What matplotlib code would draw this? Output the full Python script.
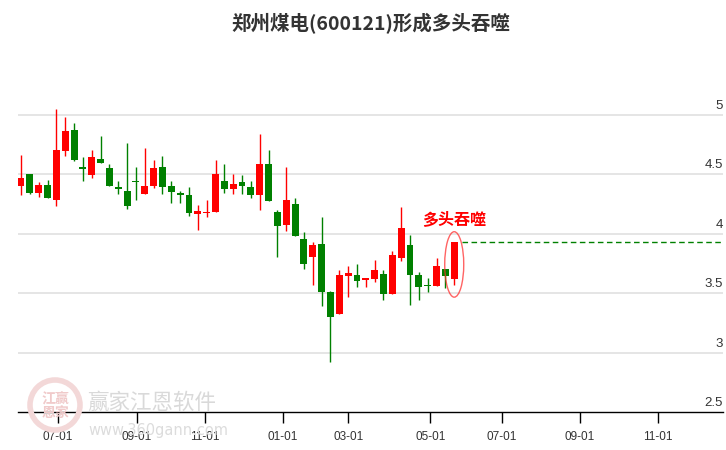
import matplotlib
matplotlib.use("Agg")
import matplotlib.pyplot as plt
from matplotlib.patches import Ellipse
import matplotlib.transforms as mtransforms

# ---- data (weekly candles) ----
opens = [4.40, 4.50, 4.34, 4.41, 4.28, 4.69, 4.87, 4.56, 4.49, 4.63,
         4.55, 4.39, 4.36, 4.435, 4.33, 4.40, 4.56, 4.40, 4.34, 4.32,
         4.16, 4.17, 4.18, 4.44, 4.37, 4.43, 4.39, 4.32, 4.58, 4.18,
         4.07, 4.25, 3.95, 3.80, 3.91, 3.51, 3.32, 3.64, 3.65, 3.61,
         3.62, 3.66, 3.49, 3.79, 3.90, 3.65, 3.56, 3.56, 3.70, 3.62]
highs = [4.66, 4.50, 4.43, 4.45, 5.05, 4.98, 4.93, 4.64, 4.70, 4.82,
         4.58, 4.44, 4.76, 4.56, 4.72, 4.62, 4.65, 4.44, 4.36, 4.39,
         4.24, 4.28, 4.62, 4.58, 4.50, 4.49, 4.44, 4.84, 4.70, 4.20,
         4.56, 4.30, 4.01, 3.93, 4.14, 3.52, 3.69, 3.73, 3.74, 3.63,
         3.78, 3.69, 3.85, 4.22, 3.99, 3.68, 3.63, 3.79, 3.70, 3.93]
lows = [4.32, 4.33, 4.31, 4.30, 4.23, 4.65, 4.61, 4.44, 4.47, 4.59,
        4.40, 4.33, 4.21, 4.28, 4.33, 4.38, 4.33, 4.26, 4.26, 4.15,
        4.03, 4.14, 4.18, 4.34, 4.33, 4.33, 4.30, 4.20, 4.27, 3.80,
        4.02, 3.98, 3.70, 3.57, 3.39, 2.92, 3.32, 3.47, 3.55, 3.55,
        3.595, 3.44, 3.49, 3.77, 3.40, 3.44, 3.51, 3.56, 3.545, 3.57]
closes = [4.47, 4.34, 4.41, 4.30, 4.70, 4.86, 4.62, 4.54, 4.64, 4.59,
          4.40, 4.37, 4.23, 4.43, 4.40, 4.55, 4.39, 4.35, 4.32, 4.17,
          4.19, 4.18, 4.50, 4.37, 4.42, 4.40, 4.32, 4.58, 4.27, 4.06,
          4.28, 3.98, 3.74, 3.90, 3.51, 3.30, 3.65, 3.67, 3.60, 3.62,
          3.69, 3.49, 3.82, 4.05, 3.65, 3.55, 3.555, 3.73, 3.64, 3.93]

tick_pos = [4.2, 13.1, 20.8, 29.6, 37.0, 46.3, 54.4, 63.2, 72.0]
tick_labels = ["07-01", "09-01", "11-01", "01-01", "03-01", "05-01", "07-01", "09-01", "11-01"]
y_ticks = [2.5, 3, 3.5, 4, 4.5, 5]
y_tick_labels = ["2.5", "3", "3.5", "4", "4.5", "5"]

title = "郑州煤电(600121)形成多头吞噬"
pattern_label = "多头吞噬"
wm_name = "赢家江恩软件"
wm_url = "www.360gann.com"
wm_stamp = "江赢\n恩家"

UP = "#ff0000"
DOWN = "#008000"

plt.rcParams['font.family'] = ['Noto Sans CJK SC', 'DejaVu Sans']

fig = plt.figure(figsize=(7.26, 4.5), dpi=100)
ax = fig.add_axes([18/726, 38/450, (723-18)/726, (412-55)/450])
ax.set_xlim(-0.34, 79.4)
ax.set_ylim(2.5, 5.5)

# grid
for v in y_ticks[1:]:
    ax.axhline(v, color="#e3e3e3", lw=1.3, zorder=0)

# watermark
wm_t = fig.transFigure
fig.patches.append(Ellipse((55/726, 1 - 405/450), 50/726, 50/450, transform=wm_t,
                           facecolor="none", edgecolor="#f3d8d8", lw=4, zorder=0))
fig.text(55/726, 1 - 406/450, wm_stamp, ha="center", va="center", fontsize=10,
         color="#f0caca", fontweight="bold", linespacing=0.95, zorder=0)
fig.text(87/726, 1 - 403/450, wm_name, ha="left", va="center", fontsize=15.5,
         color="#d9d9d9", zorder=0)
fig.text(88/726, 1 - 431/450, wm_url, ha="left", va="center", fontsize=10.5,
         color="#dcdcdc", zorder=0, family=["DejaVu Sans"])

# candles
w = 0.78
for i, (o, h, l, c) in enumerate(zip(opens, highs, lows, closes)):
    col = UP if c >= o else DOWN
    ax.vlines(i, l, h, color=col, lw=1.0, zorder=3)
    bottom = min(o, c)
    height = max(abs(c - o), 0.014)
    ax.bar(i, height, width=w, bottom=bottom, color=col, edgecolor=col, lw=0, zorder=4)

# pattern highlight
last = len(closes) - 1
ax.add_patch(Ellipse((last, (highs[last] + lows[last]) / 2 - 0.01), 2.15, 0.55,
                     facecolor="none", edgecolor="#ff3030", alpha=0.75, lw=1.0, zorder=5))
ax.hlines(closes[last], last + 0.9, 79.4, colors=DOWN, linestyles=(0, (4, 2.5)), lw=1.0, zorder=5)
ax.text(last, highs[last] + 0.19, pattern_label, ha="center", va="center", color="#ff0000",
        fontsize=11.5, fontweight="bold", zorder=6)

# axes styling
for s in ["top", "right", "left"]:
    ax.spines[s].set_visible(False)
ax.spines["bottom"].set_color("#000000")
ax.spines["bottom"].set_linewidth(1.0)
ax.set_yticks([])
ax.set_xticks(tick_pos)
ax.set_xticklabels(tick_labels, fontsize=8.5, color="#333333", family=["Liberation Sans"])
ax.tick_params(axis="x", direction="out", length=8, width=1, color="#000000", pad=6)

trans = mtransforms.blended_transform_factory(ax.transAxes, ax.transData)
for v, lab in zip(y_ticks, y_tick_labels):
    ax.text(1.0, v + 0.025, lab, transform=trans, ha="right", va="bottom",
            fontsize=9.5, color="#333333", family=["Liberation Sans"])

fig.text(371/726, 1 - 24/450, title, ha="center", va="center", fontsize=14,
         fontweight="bold", color="#333333")

fig.savefig("out.png", dpi=100)
